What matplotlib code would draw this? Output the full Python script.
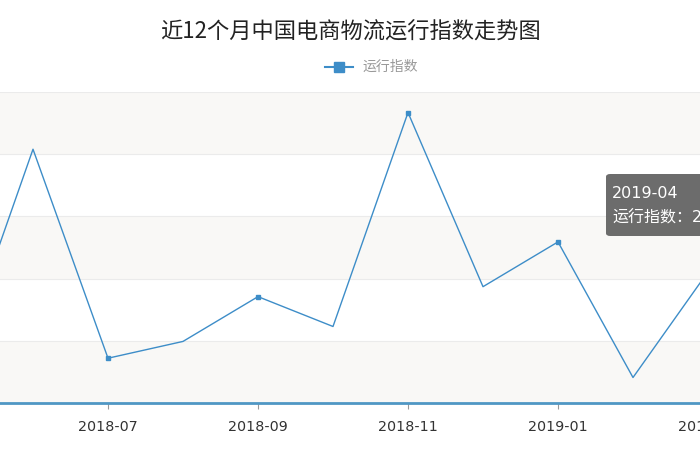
import matplotlib.pyplot as plt
from matplotlib.patches import FancyBboxPatch

plt.rcParams['font.family'] = ['Noto Sans CJK SC', 'DejaVu Sans']

# data: last 12 months index values
months = ["2018-05", "2018-06", "2018-07", "2018-08", "2018-09", "2018-10",
          "2018-11", "2018-12", "2019-01", "2019-02", "2019-03", "2019-04"]
index_values = [196.4, 230.8, 197.2, 199.9, 207.1, 202.3,
                236.7, 208.7, 215.9, 194.1, 211.1, 220.0]
tooltip_month = "2019-04"
tooltip_value = 220.0

line_color = "#3d8dc8"

fig = plt.figure(figsize=(7, 4.7), dpi=100)
# chart is cropped on both sides, so the axes run past the figure edges
ax = fig.add_axes([0, 67 / 470, 1, 311 / 470])

x = list(range(len(months)))
ax.plot(x, index_values, color=line_color, linewidth=1.0,
        marker="s", markersize=3, markevery=[2, 4, 6, 8, 10], zorder=3)

# alternating bands + grid lines
yt = [190, 200, 210, 220, 230, 240]
for i in range(len(yt) - 1):
    if i % 2 == 0:
        ax.axhspan(yt[i], yt[i + 1], color="#f9f8f6", zorder=0, lw=0)
for v in yt[1:]:
    ax.axhline(v, color="#ebebeb", linewidth=0.8, zorder=1)

for s in ["top", "right", "left"]:
    ax.spines[s].set_visible(False)
ax.spines["bottom"].set_color("#4f97c4")
ax.spines["bottom"].set_linewidth(2)
ax.set_yticks([])

ax.set_xticks(x[::2])
ax.set_xticklabels(months[::2], family="DejaVu Sans", fontsize=10.3, color="#333333")
ax.tick_params(axis="x", length=4, color="#999999", pad=8)

# set limits after the ticks, otherwise set_xticks widens them
ax.set_xlim(42 / 75, 742 / 75)
ax.set_ylim(190, 240)

# 2019-03 tick sits just past the right edge, matplotlib hides its label, so draw it by hand
ax.annotate(months[10], xy=(10, 0), xycoords=("data", "axes fraction"),
            xytext=(0, -12), textcoords="offset points", ha="center", va="top",
            family="DejaVu Sans", fontsize=10.3, color="#333333", annotation_clip=False)

fig.text(0.5, 1 - 32 / 470, "近12个月中国电商物流运行指数走势图", ha="center", va="center",
         fontsize=16, color="#222222")

# legend
ly = 1 - 67 / 470
fig.lines.append(plt.Line2D([325 / 700, 353 / 700], [ly, ly], color=line_color,
                            linewidth=1.5, transform=fig.transFigure))
fig.lines.append(plt.Line2D([339 / 700], [ly], color=line_color, marker="s",
                            markersize=7, linestyle="none", transform=fig.transFigure))
fig.text(362 / 700, ly, "运行指数", ha="left", va="center", fontsize=10, color="#999999")

# tooltip (cut off at the right edge)
box = FancyBboxPatch((606 / 700, 1 - 236 / 470), 0.2, 62 / 470,
                     boxstyle="round,pad=0,rounding_size=0.006",
                     transform=fig.transFigure, facecolor="#646464", edgecolor="none",
                     alpha=0.95, zorder=10)
fig.patches.append(box)
tip_font = ['DejaVu Sans', 'Noto Sans CJK SC']
fig.text(612 / 700, 1 - 193 / 470, tooltip_month, ha="left", va="center",
         fontsize=11.5, color="white", family=tip_font, zorder=11)
fig.text(612 / 700, 1 - 218 / 470, "运行指数：" + str(tooltip_value), ha="left", va="center",
         fontsize=11.5, color="white", family=tip_font, zorder=11)

fig.savefig("out.png", dpi=100)
